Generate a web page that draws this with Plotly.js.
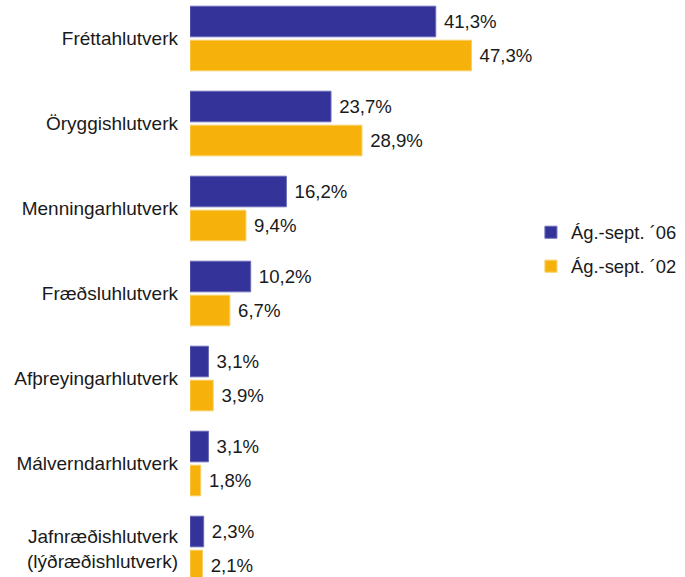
<!DOCTYPE html>
<html>
<head>
<meta charset="utf-8">
<script src="https://cdn.plot.ly/plotly-3.0.1.min.js"></script>
<style>html,body{margin:0;padding:0;background:#fff;}#chart{width:685px;height:577px;}</style>
</head>
<body>
<div id="chart"></div>
<script>
const categories = [
  "Fréttahlutverk",
  "Öryggishlutverk",
  "Menningarhlutverk",
  "Fræðsluhlutverk",
  "Afþreyingarhlutverk",
  "Málverndarhlutverk",
  "Jafnræðishlutverk<br>(lýðræðishlutverk)"
];
const series06Name = "Ág.-sept. ´06";
const series02Name = "Ág.-sept. ´02";
const values06 = [41.3, 23.7, 16.2, 10.2, 3.1, 3.1, 2.3];
const values02 = [47.3, 28.9, 9.4, 6.7, 3.9, 1.8, 2.1];

const fmt = v => "\u00a0" + v.toFixed(1).replace(".", ",") + "%";
const font = "Liberation Sans, Arial, Helvetica, sans-serif";

const traces = [
  {
    type: "bar", orientation: "h", name: series06Name,
    y: categories, x: values06,
    text: values06.map(fmt), textposition: "outside", cliponaxis: false,
    constraintext: "none",
    textfont: {family: font, size: 18.6, color: "#1a1a1a"},
    marker: {color: "#333399", line: {color: "#6a6ab8", width: 1}},
    legendgroup: "a", hoverinfo: "none"
  },
  {
    type: "bar", orientation: "h", name: series02Name,
    y: categories, x: values02,
    text: values02.map(fmt), textposition: "outside", cliponaxis: false,
    constraintext: "none",
    textfont: {family: font, size: 18.6, color: "#1a1a1a"},
    marker: {color: "#F6B20B", line: {color: "#f9cf66", width: 1}},
    legendgroup: "b", hoverinfo: "none"
  }
];

const layout = {
  width: 685, height: 577,
  margin: {l: 190, r: 138, t: 0, b: 0, pad: 0},
  paper_bgcolor: "#ffffff", plot_bgcolor: "#ffffff",
  font: {family: font, size: 18, color: "#1a1a1a"},
  barmode: "group", bargap: 0.2, bargroupgap: 0.1,
  xaxis: {range: [0, 60], showgrid: false, zeroline: false, showline: false,
          showticklabels: false, ticks: "", fixedrange: true},
  yaxis: {type: "category", range: [6.335, -0.453], showgrid: false, zeroline: false,
          showline: false, ticks: "", ticklabelstandoff: 11,
          tickfont: {family: font, size: 19, color: "#1a1a1a"}, fixedrange: true},
  showlegend: true,
  legend: {x: 0.955, xanchor: "left", y: 0.568, yanchor: "middle",
           traceorder: "grouped", tracegroupgap: 7,
           font: {family: font, size: 18.4, color: "#1a1a1a"},
           bgcolor: "rgba(0,0,0,0)", itemwidth: 30}
};

Plotly.newPlot("chart", traces, layout, {displayModeBar: false, staticPlot: true});
</script>
</body>
</html>
